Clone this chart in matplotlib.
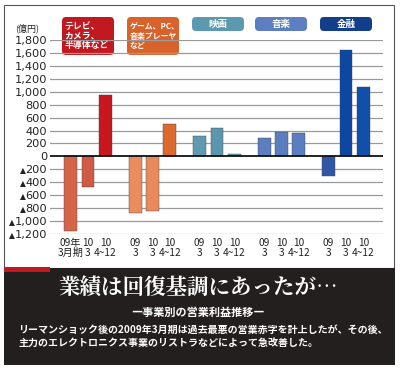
import matplotlib
matplotlib.use("Agg")
import matplotlib.pyplot as plt
from matplotlib.patches import Rectangle, FancyBboxPatch
import numpy as np

plt.rcParams['font.family'] = ['Noto Sans CJK JP', 'DejaVu Sans']

# data (億円)
segments = ["テレビ、\nカメラ、\n半導体など", "ゲーム、PC、\n音楽プレーヤ\nなど", "映画", "音楽", "金融"]
seg_colors = ["#c1191f", "#d9622b", "#5d99ae", "#5b7fc1", "#123f8a"]
tv = [-1160, -470, 950]
game = [-880, -840, 500]
movie = [320, 440, 40]
music = [290, 370, 355]
finance = [-310, 1650, 1080]
values = [tv, game, movie, music, finance]
bar_colors = [
    ["#d5654a", "#d05a43", "#c8171e"],
    ["#eb8c5e", "#ea8a5c", "#dc6a2e"],
    ["#5e9bb0", "#5a97ad", "#5e9bb0"],
    ["#5a7ec0", "#5a7ec0", "#5a7ec0"],
    ["#3057a5", "#0d47a1", "#1150aa"],
]
first_labels = ["09年\n3月期", "10\n3", "10\n4~12"]
other_labels = ["09\n3", "10\n3", "10\n4~12"]
yticks = list(range(-1200, 1801, 200))

narrow = ['Liberation Sans Narrow', 'DejaVu Sans']
narrow_cjk = ['Liberation Sans Narrow', 'Noto Sans CJK JP']

fig = plt.figure(figsize=(4, 3.72), dpi=100)
fig.patch.set_facecolor("white")

# decorative layer in pixel coords
deco = fig.add_axes([0, 0, 1, 1])
deco.set_xlim(0, 400)
deco.set_ylim(372, 0)
deco.axis("off")
deco.add_patch(Rectangle((4, 5), 390, 263, fill=False, edgecolor="#555555", lw=0.8))
deco.add_patch(Rectangle((4, 268), 391, 97, facecolor="#231f1f", edgecolor="none"))
deco.add_patch(Rectangle((4, 267), 46, 5, facecolor="#c1191f", edgecolor="none"))

# segment label boxes
box_x = [62, 127, 192, 255, 320]
box_h = [38, 38, 14, 14, 14]
box_fs = [6.4, 5.7, 6.8, 6.8, 6.8]
for i, name in enumerate(segments):
    deco.add_patch(FancyBboxPatch((box_x[i], 17), 52, box_h[i],
                                  boxstyle="round,pad=0,rounding_size=4",
                                  facecolor=seg_colors[i], edgecolor="none"))
    if box_h[i] > 20:
        deco.text(box_x[i] + 2.5, 17 + box_h[i] / 2, name, color="white", fontsize=box_fs[i],
                  fontweight="bold", ha="left", va="center", linespacing=1.05)
    else:
        deco.text(box_x[i] + 26, 24, name, color="white", fontsize=box_fs[i],
                  fontweight="bold", ha="center", va="center")

deco.text(27, 28, "(億円)", fontsize=6.5, ha="center", va="center", color="#222222")

# bottom panel text
deco.text(198, 289, "業績は回復基調にあったが…", color="white", fontsize=15.5,
          fontweight="bold", ha="center", va="center",
          family=['Noto Serif CJK JP', 'Noto Sans CJK JP'])
deco.text(198, 312, "―事業別の営業利益推移―", color="white", fontsize=8,
          fontweight="bold", ha="center", va="center")
deco.text(18, 330, "リーマンショック後の2009年3月期は過去最悪の営業赤字を計上したが、その後、",
          color="white", fontsize=7.2, fontweight="bold", ha="left", va="center")
deco.text(18, 343, "主力のエレクトロニクス事業のリストラなどによって急改善した。",
          color="white", fontsize=7.2, fontweight="bold", ha="left", va="center")

# chart
ax = fig.add_axes([50 / 400, 1 - 234 / 372, 333 / 400, 194 / 372])
ax.set_xlim(-0.589, 4.574)
ax.set_ylim(-1200, 1800)
ax.set_facecolor("none")
for s in ax.spines.values():
    s.set_visible(False)
for y in yticks:
    if y == 0:
        ax.axhline(y, color="#111111", lw=1.3, zorder=3)
    else:
        ax.axhline(y, color="#9a9a9a", lw=0.9, zorder=0)

offsets = np.array([-0.27, 0.0, 0.27])
xpos = []
xlab = []
for g, vals in enumerate(values):
    xs = g + offsets
    ax.bar(xs, vals, width=0.2, color=bar_colors[g], edgecolor="#444444",
           linewidth=0.3, zorder=2)
    xpos.extend(xs)
    xlab.extend(first_labels if g == 0 else other_labels)

ax.set_xticks(xpos)
ax.set_xticklabels(xlab, fontsize=7.3, linespacing=1.0, color="#222222", family=narrow_cjk)
ax.set_yticks(yticks)
ax.set_yticklabels(["{:,}".format(abs(y)) for y in yticks], fontsize=8.2,
                   color="#222222", family=narrow)
ax.tick_params(axis="x", length=0, pad=3)
ax.tick_params(axis="y", length=0, pad=2)

# small ▲ marks in front of the negative labels
fig.canvas.draw()
inv = deco.transData.inverted()
for y, lab in zip(yticks, ax.get_yticklabels()):
    if y < 0:
        bb = lab.get_window_extent()
        px, py = inv.transform((bb.x0, (bb.y0 + bb.y1) / 2))
        deco.text(px + 0.5, py + 0.3, "▲", fontsize=5.5, ha="right", va="center",
                  color="#222222", family=['DejaVu Sans'])

fig.savefig("out.png", dpi=100)
